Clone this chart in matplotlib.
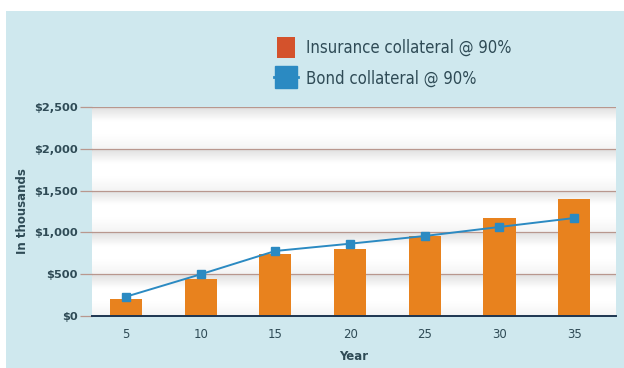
import matplotlib
matplotlib.use("Agg")
import matplotlib.pyplot as plt
import numpy as np
from matplotlib.patches import Patch, Rectangle
from matplotlib.lines import Line2D
from matplotlib.colors import LinearSegmentedColormap
from matplotlib.legend_handler import HandlerPatch
from matplotlib import font_manager as fm

years = ["5", "10", "15", "20", "25", "30", "35"]
insurance = [200, 440, 738, 805, 960, 1175, 1395]
bond = [231, 499, 778, 865, 957, 1065, 1172]
yticks = [0, 500, 1000, 1500, 2000, 2500]
ytick_labels = ["$0", "$500", "$1,000", "$1,500", "$2,000", "$2,500"]

BG = "#cfe8ee"
ORANGE = "#e8821e"
LEG_ORANGE = "#d4522c"
BLUE = "#2b8ac2"
TXT = "#2f4b56"
GRID = "#b8978e"

names = {f.name for f in fm.fontManager.ttflist}
if "Liberation Sans Narrow" in names:
    leg_prop = {"family": "Liberation Sans Narrow", "size": 14}
else:
    leg_prop = {"family": "DejaVu Sans", "stretch": "condensed", "size": 12}

fig = plt.figure(figsize=(6.24, 3.68), dpi=100, facecolor="white")
fig.patches.append(Rectangle((6/624, 0), 1, (368-11)/368, transform=fig.transFigure,
                             facecolor=BG, edgecolor="none", zorder=-10))

ax = fig.add_axes([92/624, 1-316/368, 524/624, 209/368])
ax.set_facecolor("white")
x = np.arange(len(years))

cmap = LinearSegmentedColormap.from_list("g", ["#e0e0e0", "#ffffff", "#ffffff", "#f4f4f4"])
grad = np.linspace(0, 1, 100).reshape(-1, 1)
for lo, hi in zip(yticks[:-1], yticks[1:]):
    ax.imshow(grad, extent=(-0.455, 6.56, lo, hi), origin="upper", aspect="auto",
              cmap=cmap, zorder=0, interpolation="bilinear")
ax.set_xlim(-0.455, 6.56)
ax.set_ylim(0, 2500)

for yv in yticks[1:]:
    ax.axhline(yv, color=GRID, lw=0.9, zorder=1)

ax.bar(x, insurance, width=0.43, color=ORANGE, zorder=2)
ax.plot(x, bond, color=BLUE, lw=1.4, marker="s", markersize=6, zorder=3)

for s in ["top", "right", "left"]:
    ax.spines[s].set_visible(False)
ax.spines["bottom"].set_color("#1d3550")
ax.spines["bottom"].set_linewidth(1.4)
ax.spines["bottom"].set_zorder(4)

ax.set_yticks(yticks)
ax.set_yticklabels(ytick_labels, fontsize=8.2, fontweight="bold", color=TXT,
                   family="DejaVu Sans")
ax.tick_params(axis="y", length=9, color=GRID, width=0.9, pad=1.5)
ax.set_xticks(x)
ax.set_xticklabels(years, fontsize=8.5, color=TXT, family="DejaVu Sans")
ax.tick_params(axis="x", length=0, pad=9)

ax.set_xlabel("Year", fontsize=8.5, fontweight="bold", color=TXT,
              family="DejaVu Sans", labelpad=6)
ax.set_ylabel("In thousands", fontsize=8.5, fontweight="bold", color=TXT,
              family="DejaVu Sans", labelpad=3)


def square_patch(legend, orig_handle, xdescent, ydescent, width, height, fontsize):
    w = 1.12 * fontsize
    h = 1.3 * fontsize
    return Rectangle((-xdescent + (width - w) / 2, -ydescent + (height - h) / 2), w, h)


handles = [Patch(facecolor=LEG_ORANGE, edgecolor="none"),
           Line2D([0], [0], color=BLUE, lw=2, marker="s", markersize=16)]
leg = fig.legend(handles, ["Insurance collateral @ 90%", "Bond collateral @ 90%"],
                 loc="upper left", bbox_to_anchor=(259/624, 1-24/368), frameon=False,
                 prop=leg_prop,
                 handler_map={Patch: HandlerPatch(patch_func=square_patch)},
                 handlelength=1.45, handleheight=1.15, handletextpad=0.45,
                 labelspacing=0.75, labelcolor=TXT)

fig.savefig("out.png", dpi=100, facecolor="white")
